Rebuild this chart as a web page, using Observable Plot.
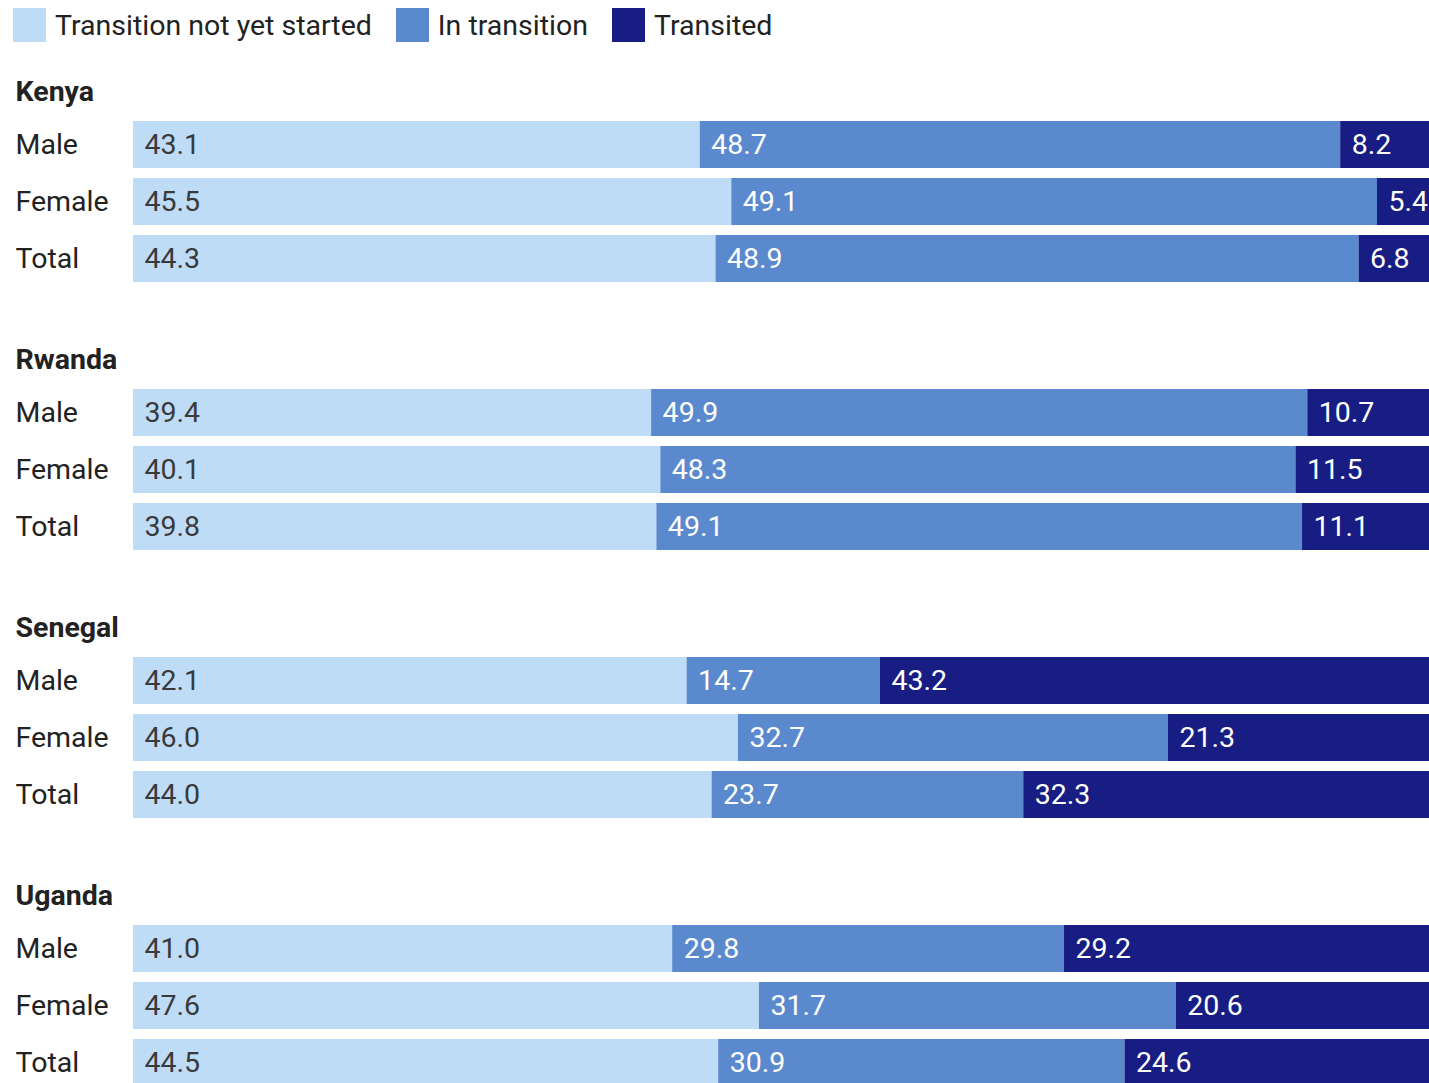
<!DOCTYPE html>
<html>
<head>
<meta charset="utf-8">
<script src="https://cdn.jsdelivr.net/npm/d3@7"></script>
<script src="https://cdn.jsdelivr.net/npm/@observablehq/plot@0.6"></script>
<style>
  html, body { margin: 0; padding: 0; overflow: hidden; background: #fff; width: 1429px; height: 1083px; }
  #wrap { position: relative; font-family: Roboto, sans-serif; }
  #legend { position: absolute; top: 8px; left: 13px; display: flex; align-items: center; font-size: 28.5px; color: #222; white-space: nowrap; }
  #legend .item { display: flex; align-items: center; margin-right: 24px; }
  #legend .sw { width: 33px; height: 34px; margin-right: 9px; flex: none; }
  #chart svg { display: block; max-width: none !important; }
</style>
</head>
<body>
<div id="wrap">
  <div id="legend"></div>
  <div id="chart"></div>
</div>
<script>
const countries = ["Kenya", "Rwanda", "Senegal", "Uganda"];
const groups = ["Male", "Female", "Total"];
const categories = ["Transition not yet started", "In transition", "Transited"];
const colors = ["#bfdcf7", "#5b89cd", "#181d83"];

// values per country: rows Male, Female, Total; columns = categories
const kenya   = [[43.1, 48.7, 8.2], [45.5, 49.1, 5.4], [44.3, 48.9, 6.8]];
const rwanda  = [[39.4, 49.9, 10.7], [40.1, 48.3, 11.5], [39.8, 49.1, 11.1]];
const senegal = [[42.1, 14.7, 43.2], [46.0, 32.7, 21.3], [44.0, 23.7, 32.3]];
const uganda  = [[41.0, 29.8, 29.2], [47.6, 31.7, 20.6], [44.5, 30.9, 24.6]];
const valuesByCountry = [kenya, rwanda, senegal, uganda];

const data = [];
countries.forEach((c, ci) => {
  groups.forEach((g, gi) => {
    let acc = 0;
    categories.forEach((cat, k) => {
      const v = valuesByCountry[ci][gi][k];
      data.push({country: c, group: g, category: cat, value: v, x1: acc, x2: acc + v});
      acc += v;
    });
  });
});

// Legend
const legend = document.getElementById("legend");
categories.forEach((cat, i) => {
  const item = document.createElement("div");
  item.className = "item";
  item.innerHTML = `<div class="sw" style="background:${colors[i]}"></div><span>${cat}</span>`;
  legend.appendChild(item);
});

const fontFamily = "Roboto, sans-serif";
const fs = 28.5;

const chart = Plot.plot({
  width: 1448,
  height: 1086,
  marginTop: 55,
  marginBottom: 0,
  marginLeft: 133,
  marginRight: 0,
  style: {fontFamily, background: "transparent", maxWidth: "none"},
  x: {domain: [0, 100], axis: null},
  y: {domain: groups, axis: null, paddingInner: 0.183, paddingOuter: 0, insetTop: 65},
  fy: {domain: countries, axis: null, paddingInner: 41 / 268, paddingOuter: 0},
  color: {domain: categories, range: colors},
  marks: [
    Plot.barX(data, {x1: "x1", x2: "x2", y: "group", fy: "country", fill: "category"}),
    Plot.text(data.filter(d => d.category === categories[0]), {
      x: "x1", y: "group", fy: "country", text: d => d.value.toFixed(1),
      textAnchor: "start", dx: 11, fill: "#3a3a3a", fontSize: fs
    }),
    Plot.text(data.filter(d => d.category !== categories[0]), {
      x: "x1", y: "group", fy: "country", text: d => d.value.toFixed(1),
      textAnchor: "start", dx: 11, fill: "white", fontSize: fs
    }),
    Plot.text(data.filter(d => d.category === categories[0]), {
      y: "group", fy: "country", text: "group", frameAnchor: "left",
      textAnchor: "start", dx: -118, fill: "#222", fontSize: fs
    }),
    Plot.text(countries, {
      fy: d => d, text: d => d, frameAnchor: "top-left", lineAnchor: "middle",
      textAnchor: "start", dx: -118, dy: 36, fill: "#222", fontSize: fs, fontWeight: "bold"
    })
  ]
});
document.getElementById("chart").appendChild(chart);
</script>
</body>
</html>
